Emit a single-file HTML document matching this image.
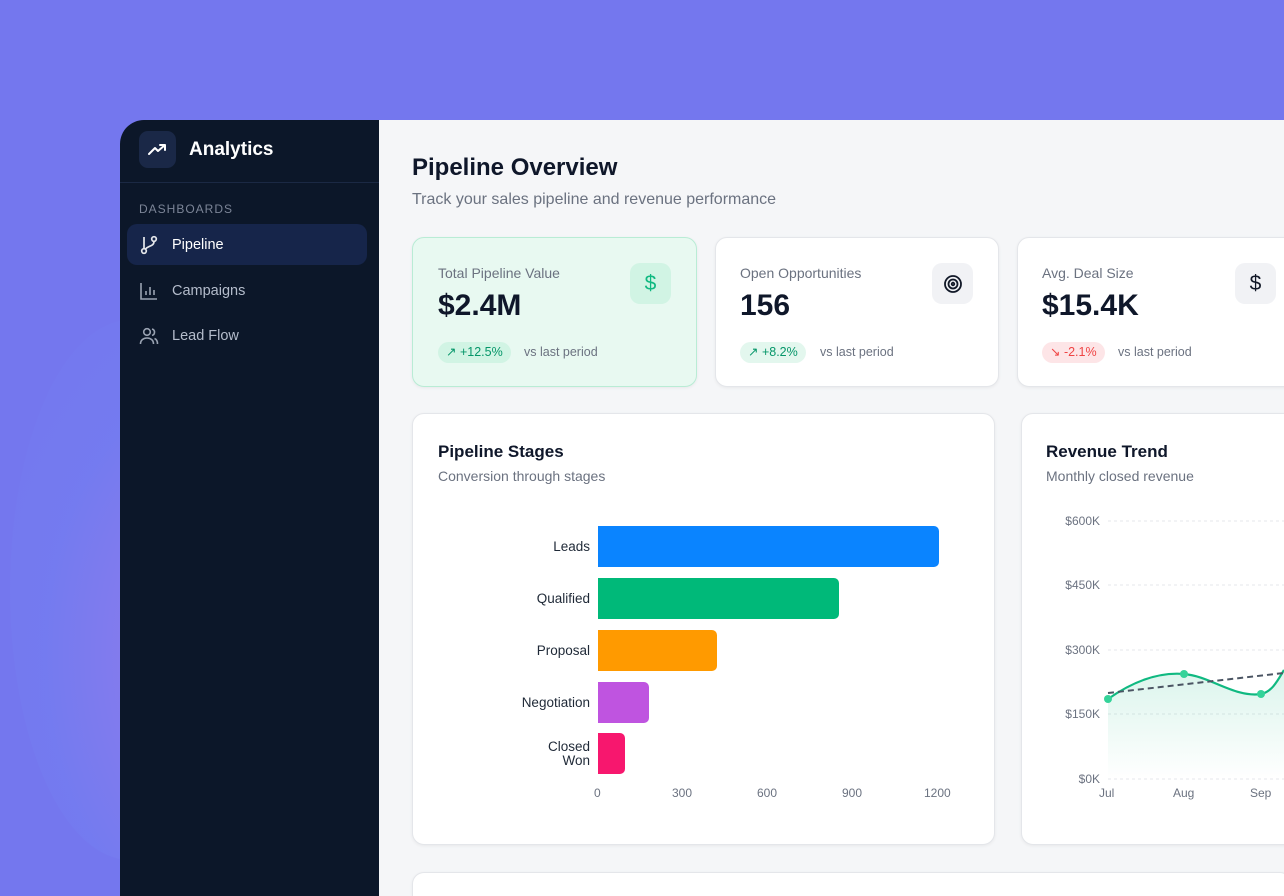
<!DOCTYPE html>
<html><head><meta charset="utf-8"><style>
*{margin:0;padding:0;box-sizing:border-box}
html{width:1284px;height:896px;overflow:hidden}
body{width:1284px;height:896px;overflow:hidden;position:relative;background:#7477ee;font-family:"Liberation Sans",sans-serif}
.a{position:absolute}
.glow{left:10px;top:320px;width:240px;height:540px;border-radius:50%;background:radial-gradient(ellipse at 95% 62%,#a57ae8 0%,#8c7cec 30%,#747cf0 60%,rgba(116,119,238,0) 100%);opacity:.75}
.side{left:120px;top:120px;width:259px;height:776px;background:#0c1729;border-top-left-radius:24px}
.main{left:379px;top:120px;width:905px;height:776px;background:#f5f6f8}
.card{background:#fff;border:1px solid #e4e6ea;border-radius:12px;box-shadow:0 1px 3px rgba(0,0,0,.06)}
.lbl{font-size:14px;color:#6b7280}
.val{font-size:30px;font-weight:bold;color:#0f172a}
.badge{height:21px;border-radius:11px;font-size:12.5px;line-height:21px;padding:0 8px}
.vs{font-size:12.5px;color:#6b7280}
.ib{width:41px;height:41px;border-radius:10px;display:flex;align-items:center;justify-content:center;font-size:21px}
.nav{font-size:14.5px;color:#b4bccb}
.bl{font-size:13.5px;color:#1f2937;text-align:right;width:150px}
.tk{font-size:12px;color:#6b7280}
</style></head><body>
<div class="a glow"></div>
<div class="a side"></div>
<div class="a" style="left:139px;top:131px;width:37px;height:37px;border-radius:9px;background:#1a2847"></div>
<svg class="a" style="left:147px;top:140px" width="21" height="20" viewBox="0 0 21 20"><path d="M2 14 L8 8 L11 11 L18 5 M13 5 H18 V10" stroke="#fff" stroke-width="2" fill="none" stroke-linecap="round" stroke-linejoin="round"/></svg>
<div class="a" style="left:189px;top:139px;font-size:19px;color:#fff;font-weight:bold">Analytics</div>
<div class="a" style="left:120px;top:182px;width:259px;height:1px;background:#1b2944"></div>
<div class="a" style="left:139px;top:202px;font-size:12px;letter-spacing:1px;color:#7c8597">DASHBOARDS</div>
<div class="a" style="left:127px;top:224px;width:240px;height:41px;border-radius:10px;background:#16254a"></div>
<svg class="a" style="left:139px;top:235px" width="20" height="20" viewBox="0 0 20 20" fill="none" stroke="#e5e7eb" stroke-width="1.7"><circle cx="5" cy="16" r="2.3"/><circle cx="15" cy="4" r="2.3"/><path d="M5 2v11.5M15 6.5c0 5-6 4-9 8"/></svg>
<div class="a nav" style="left:172px;top:237px;color:#fff">Pipeline</div>
<svg class="a" style="left:139px;top:281px" width="20" height="20" viewBox="0 0 20 20" fill="none" stroke="#9aa3b2" stroke-width="1.6"><path d="M2 2v16h16M7 14v-4M11 14V6M15 14V9"/></svg>
<div class="a nav" style="left:172px;top:283px">Campaigns</div>
<svg class="a" style="left:139px;top:326px" width="20" height="20" viewBox="0 0 20 20" fill="none" stroke="#9aa3b2" stroke-width="1.6"><circle cx="8" cy="6" r="3.3"/><path d="M1.5 18c0-4 3-6 6.5-6s6.5 2 6.5 6M13 3a3.3 3.3 0 0 1 0 6.4M15.5 12.5c2 .8 3 2.7 3 5.5"/></svg>
<div class="a nav" style="left:172px;top:328px">Lead Flow</div>

<div class="a main"></div>
<div class="a" style="left:412px;top:154px;font-size:24px;font-weight:bold;color:#0f172a">Pipeline Overview</div>
<div class="a" style="left:412px;top:191px;font-size:16px;color:#6b7280">Track your sales pipeline and revenue performance</div>

<div class="a card" style="left:412px;top:237px;width:285px;height:150px;background:#e8f9f1;border-color:#b9ecd5"></div>
<div class="a lbl" style="left:438px;top:265px">Total Pipeline Value</div>
<div class="a val" style="left:438px;top:289px">$2.4M</div>
<div class="a ib" style="left:630px;top:263px;background:#d1f4e4;color:#10b981">$</div>
<div class="a badge" style="left:438px;top:342px;background:#d1f4e4;color:#059669">↗ +12.5%</div>
<div class="a vs" style="left:524px;top:345px">vs last period</div>

<div class="a card" style="left:715px;top:237px;width:284px;height:150px"></div>
<div class="a lbl" style="left:740px;top:265px">Open Opportunities</div>
<div class="a val" style="left:740px;top:289px">156</div>
<div class="a ib" style="left:932px;top:263px;background:#f1f2f5"><svg width="20" height="20" viewBox="0 0 20 20" fill="none" stroke="#111827" stroke-width="1.8"><circle cx="10" cy="10" r="8"/><circle cx="10" cy="10" r="4.5"/><circle cx="10" cy="10" r="1.3"/></svg></div>
<div class="a badge" style="left:740px;top:342px;background:#e3f7ee;color:#059669">↗ +8.2%</div>
<div class="a vs" style="left:820px;top:345px">vs last period</div>

<div class="a card" style="left:1017px;top:237px;width:300px;height:150px"></div>
<div class="a lbl" style="left:1042px;top:265px">Avg. Deal Size</div>
<div class="a val" style="left:1042px;top:289px">$15.4K</div>
<div class="a ib" style="left:1235px;top:263px;background:#f1f2f5;color:#111827">$</div>
<div class="a badge" style="left:1042px;top:342px;background:#fde5e7;color:#ef4444">↘ -2.1%</div>
<div class="a vs" style="left:1118px;top:345px">vs last period</div>

<div class="a card" style="left:412px;top:413px;width:583px;height:432px"></div>
<div class="a" style="left:438px;top:442px;font-size:17px;font-weight:bold;color:#0f172a">Pipeline Stages</div>
<div class="a" style="left:438px;top:468px;font-size:14px;color:#6b7280">Conversion through stages</div>
<div class="a" style="left:598px;top:526px;width:341px;height:41px;background:#0a84ff;border-radius:0 5px 5px 0"></div>
<div class="a" style="left:598px;top:578px;width:241px;height:41px;background:#00b979;border-radius:0 5px 5px 0"></div>
<div class="a" style="left:598px;top:630px;width:119px;height:41px;background:#ff9a00;border-radius:0 5px 5px 0"></div>
<div class="a" style="left:598px;top:682px;width:51px;height:41px;background:#bf54e0;border-radius:0 5px 5px 0"></div>
<div class="a" style="left:598px;top:733px;width:27px;height:41px;background:#f7176e;border-radius:0 5px 5px 0"></div>
<div class="a bl" style="left:440px;top:539px">Leads</div>
<div class="a bl" style="left:440px;top:591px">Qualified</div>
<div class="a bl" style="left:440px;top:643px">Proposal</div>
<div class="a bl" style="left:440px;top:695px">Negotiation</div>
<div class="a bl" style="left:440px;top:740px;line-height:14px">Closed<br>Won</div>
<div class="a tk" style="left:594px;top:786px">0</div>
<div class="a tk" style="left:672px;top:786px">300</div>
<div class="a tk" style="left:757px;top:786px">600</div>
<div class="a tk" style="left:842px;top:786px">900</div>
<div class="a tk" style="left:924px;top:786px">1200</div>

<div class="a card" style="left:1021px;top:413px;width:300px;height:432px"></div>
<div class="a" style="left:1046px;top:442px;font-size:17px;font-weight:bold;color:#0f172a">Revenue Trend</div>
<div class="a" style="left:1046px;top:468px;font-size:14px;color:#6b7280">Monthly closed revenue</div>
<div class="a tk" style="left:1040px;top:514px;width:60px;text-align:right">$600K</div>
<div class="a tk" style="left:1040px;top:578px;width:60px;text-align:right">$450K</div>
<div class="a tk" style="left:1040px;top:643px;width:60px;text-align:right">$300K</div>
<div class="a tk" style="left:1040px;top:707px;width:60px;text-align:right">$150K</div>
<div class="a tk" style="left:1040px;top:772px;width:60px;text-align:right">$0K</div>
<div class="a tk" style="left:1099px;top:786px">Jul</div>
<div class="a tk" style="left:1173px;top:786px">Aug</div>
<div class="a tk" style="left:1250px;top:786px">Sep</div>
<svg class="a" style="left:1100px;top:500px" width="184" height="290">
<defs><linearGradient id="g" x1="0" y1="0" x2="0" y2="1"><stop offset="0" stop-color="#10b981" stop-opacity=".15"/><stop offset="1" stop-color="#10b981" stop-opacity="0"/></linearGradient></defs>
<g stroke="#e5e7eb" stroke-dasharray="3 3"><line x1="8" x2="184" y1="21" y2="21"/><line x1="8" x2="184" y1="85" y2="85"/><line x1="8" x2="184" y1="150" y2="150"/><line x1="8" x2="184" y1="214" y2="214"/><line x1="8" x2="184" y1="279" y2="279"/></g>
<path d="M8 199 C35 180 60 172 84 174 C110 176 135 198 161 194 C172 192 178 180 184 170 L184 279 L8 279Z" fill="url(#g)"/>
<path d="M8 199 C35 180 60 172 84 174 C110 176 135 198 161 194 C172 192 178 180 184 170" stroke="#10b981" stroke-width="2.2" fill="none"/>
<line x1="8" y1="193" x2="184" y2="173" stroke="#4b5563" stroke-width="2" stroke-dasharray="6 4"/>
<circle cx="8" cy="199" r="4" fill="#34d399"/><circle cx="84" cy="174" r="4" fill="#34d399"/><circle cx="161" cy="194" r="4" fill="#34d399"/>
</svg>

<div class="a card" style="left:412px;top:872px;width:880px;height:24px;border-bottom:none;border-bottom-left-radius:0;border-bottom-right-radius:0"></div>
</body></html>
